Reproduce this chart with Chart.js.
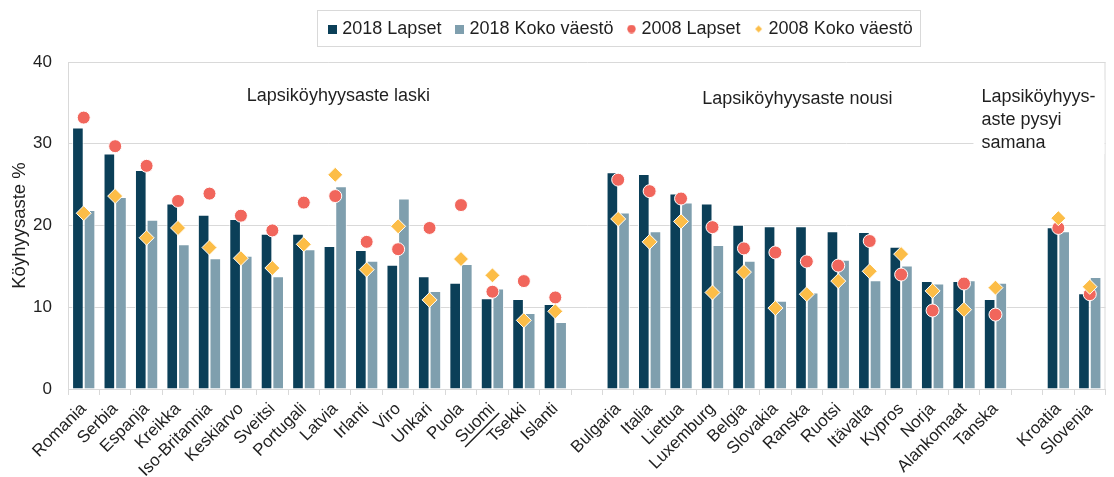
<!DOCTYPE html>
<html>
<head>
<meta charset="utf-8">
<script src="https://cdn.jsdelivr.net/npm/chart.js@4.4.1/dist/chart.umd.min.js"></script>
<style>
  html, body { margin: 0; padding: 0; background: #fff; }
  #wrap { width: 1114px; height: 477px; }
</style>
</head>
<body>
<div id="wrap"><canvas id="chart"></canvas></div>
<script>
// --- DATA ---
const categories = ['Romania', 'Serbia', 'Espanja', 'Kreikka', 'Iso-Britannia', 'Keskiarvo', 'Sveitsi', 'Portugali',
  'Latvia', 'Irlanti', 'Viro', 'Unkari', 'Puola', 'Suomi', 'Tsekki', 'Islanti', '',
  'Bulgaria', 'Italia', 'Liettua', 'Luxemburg', 'Belgia', 'Slovakia', 'Ranska', 'Ruotsi', 'Itävalta',
  'Kypros', 'Norja', 'Alankomaat', 'Tanska', '',
  'Kroatia', 'Slovenia'];
const lapset2018 = [32.0, 28.8, 26.8, 22.7, 21.3, 20.8, 19.0, 19.0, 17.5, 17.0, 15.2, 13.8, 13.0, 11.1, 11.0, 10.4, null,
  26.5, 26.3, 23.9, 22.7, 20.1, 19.9, 19.9, 19.3, 19.2, 17.4, 13.2, 13.2, 11.0, null, 19.8, 11.7];
const koko2018 = [21.9, 23.5, 20.7, 17.7, 16.0, 16.3, 13.8, 17.1, 24.8, 15.7, 23.3, 12.0, 15.3, 12.3, 9.3, 8.2, null,
  21.6, 19.3, 22.8, 17.6, 15.7, 10.8, 11.8, 15.8, 13.3, 15.1, 12.9, 13.3, 13.0, null, 19.3, 13.7];
const lapset2008 = [33.2, 29.7, 27.3, 23.0, 23.9, 21.2, 19.4, 22.8, 23.6, 18.0, 17.1, 19.7, 22.5, 11.9, 13.2, 11.2, null,
  25.6, 24.2, 23.3, 19.8, 17.2, 16.7, 15.6, 15.1, 18.1, 14.0, 9.6, 12.9, 9.1, null, 19.7, 11.6];
const koko2008 = [21.5, 23.6, 18.5, 19.7, 17.3, 16.0, 14.8, 17.7, 26.2, 14.6, 19.9, 10.9, 15.9, 13.9, 8.4, 9.5, null,
  20.8, 18.0, 20.5, 11.8, 14.3, 9.9, 11.6, 13.2, 14.4, 16.5, 12.0, 9.7, 12.4, null, 20.9, 12.5];
const yMin = 0, yMax = 40, yStep = 10;
const seriesNames = ['2018 Lapset', '2018 Koko väestö', '2008 Lapset', '2008 Koko väestö'];
const groupNotes = ['Lapsiköyhyysaste laski', 'Lapsiköyhyysaste nousi', ['Lapsiköyhyys-', 'aste pysyi', 'samana']];

const FONT = "'Liberation Sans', Arial, sans-serif";
const TEXT = '#1f1f1f';
const GRID = '#d9d9d9';
const C_DARK = '#0b3f58', C_LIGHT = '#7f9fae', C_RED = '#f1665c', C_YELLOW = '#fcbd47';

// small legend markers
function marker(kind, color) {
  const c = document.createElement('canvas');
  c.width = 9; c.height = 9;
  const g = c.getContext('2d');
  g.fillStyle = color;
  if (kind === 'rect') g.fillRect(0, 0, 9, 9);
  else if (kind === 'circle') { g.beginPath(); g.arc(4.5, 4.5, 4.2, 0, Math.PI * 2); g.fill(); }
  else { g.beginPath(); g.moveTo(4.5, 1); g.lineTo(8, 4.5); g.lineTo(4.5, 8); g.lineTo(1, 4.5); g.closePath(); g.fill(); }
  return c;
}
const legendMarks = [marker('rect', C_DARK), marker('rect', C_LIGHT), marker('circle', C_RED), marker('diamond', C_YELLOW)];

// --- PLUGINS ---
const legendGap = {
  id: 'legendGap',
  beforeInit(chart) {
    if (!chart.legend) return;
    const fit = chart.legend.fit;
    chart.legend.fit = function () { fit.bind(chart.legend)(); this.height = 59; };
  },
  afterLayout(chart) {
    // legend sits right of the canvas centre in the original
    chart.legend.left += 66;
    chart.legend.right += 66;
  }
};

const decor = {
  id: 'decor',
  beforeDatasetsDraw(chart) {
    const { ctx, chartArea: a, scales: { x, y } } = chart;
    ctx.save();
    // right border of plot
    ctx.strokeStyle = GRID; ctx.lineWidth = 1;
    ctx.beginPath(); ctx.moveTo(a.right - 0.5, a.top); ctx.lineTo(a.right - 0.5, a.bottom); ctx.stroke();
    // white box behind the third note
    const bx = x.getPixelForValue(28.3);
    ctx.fillStyle = '#fff';
    ctx.fillRect(bx, a.top + 18, a.right - 1 - bx, 74);
    ctx.font = '18px ' + FONT; ctx.fillStyle = TEXT; ctx.textBaseline = 'middle';
    ctx.textAlign = 'center';
    ctx.fillText(groupNotes[0], x.getPixelForValue(8.1), y.getPixelForValue(35.8));
    ctx.fillText(groupNotes[1], x.getPixelForValue(22.7), y.getPixelForValue(35.5));
    ctx.textAlign = 'left';
    groupNotes[2].forEach((t, i) => ctx.fillText(t, bx + 8, y.getPixelForValue(35.7) + i * 23));
    ctx.restore();
  },
  afterDraw(chart) {
    const { ctx, legend, scales: { x } } = chart;
    ctx.save();
    // legend frame
    const boxes = legend.legendHitBoxes;
    if (boxes && boxes.length) {
      const l = Math.min(...boxes.map(b => b.left)), r = Math.max(...boxes.map(b => b.left + b.width));
      ctx.strokeStyle = '#d9d9d9'; ctx.lineWidth = 1;
      ctx.strokeRect(Math.round(l - 14) + 0.5, 10.5, Math.round(r - l + 22), 36);
    }
    // underline Suomi
    const it = x.getLabelItems().find(i => i.label === 'Suomi');
    if (it) {
      const o = it.options;
      ctx.translate(o.translation[0], o.translation[1]);
      ctx.rotate(o.rotation);
      ctx.font = it.font.string;
      const w = ctx.measureText('Suomi').width;
      ctx.strokeStyle = TEXT; ctx.lineWidth = 1.5;
      const uy = it.textOffset + 9.5;
      ctx.beginPath(); ctx.moveTo(-w, uy); ctx.lineTo(0, uy); ctx.stroke();
    }
    ctx.restore();
  }
};

// --- CHART ---
const barBorder = 'rgba(255,255,255,0.85)';
new Chart(document.getElementById('chart'), {
  data: {
    labels: categories,
    datasets: [
      { type: 'line', label: seriesNames[2], data: lapset2008, showLine: false, pointStyle: 'circle',
        pointRadius: 6.5, pointHoverRadius: 6.5, backgroundColor: C_RED, borderColor: '#fff', pointBorderWidth: 1, order: 1 },
      { type: 'line', label: seriesNames[3], data: koko2008, showLine: false, pointStyle: 'rectRot',
        pointRadius: 7.5, pointHoverRadius: 7.5, backgroundColor: C_YELLOW, borderColor: '#fff', pointBorderWidth: 1, order: 0 },
      { type: 'bar', label: seriesNames[0], data: lapset2018, backgroundColor: C_DARK,
        borderColor: barBorder, borderWidth: 1, borderSkipped: 'bottom', order: 3 },
      { type: 'bar', label: seriesNames[1], data: koko2018, backgroundColor: C_LIGHT,
        borderColor: barBorder, borderWidth: 1, borderSkipped: 'bottom', order: 3 }
    ]
  },
  options: {
    responsive: true,
    maintainAspectRatio: false,
    animation: false,
    datasets: { bar: { categoryPercentage: 0.74, barPercentage: 1.0 } },
    layout: { padding: { top: 3, right: 2, left: 0, bottom: 0 } },
    plugins: {
      tooltip: { enabled: false },
      legend: {
        position: 'top',
        labels: {
          usePointStyle: true,
          boxWidth: 2, boxHeight: 9,
          padding: 17,
          color: TEXT,
          font: { family: FONT, size: 18 },
          sort: (a, b) => [2, 3, 0, 1].indexOf(a.datasetIndex) - [2, 3, 0, 1].indexOf(b.datasetIndex),
          generateLabels(chart) {
            const items = Chart.defaults.plugins.legend.labels.generateLabels(chart);
            const map = { 2: 0, 3: 1, 0: 2, 1: 3 };
            items.forEach(it => { it.pointStyle = legendMarks[map[it.datasetIndex]]; it.lineWidth = 0; });
            return items;
          }
        }
      }
    },
    scales: {
      x: {
        offset: true,
        grid: { display: true, drawOnChartArea: false, drawTicks: true, tickLength: 6, color: GRID, offset: true },
        border: { color: GRID },
        ticks: {
          autoSkip: false, minRotation: 45, maxRotation: 45, padding: 4,
          color: TEXT, font: { family: FONT, size: 17 }
        },
        afterFit(scale) { scale.height = 88; }
      },
      y: {
        min: yMin, max: yMax,
        grid: { color: GRID, drawTicks: false },
        border: { color: GRID },
        ticks: { stepSize: yStep, padding: 16, color: TEXT, font: { family: FONT, size: 17 } },
        title: { display: true, text: 'Köyhyysaste %', color: TEXT, font: { family: FONT, size: 18.5 }, padding: { top: 9, bottom: 0 } },
        afterFit(scale) { scale.width = 68; }
      }
    }
  },
  plugins: [legendGap, decor]
});
</script>
</body>
</html>
